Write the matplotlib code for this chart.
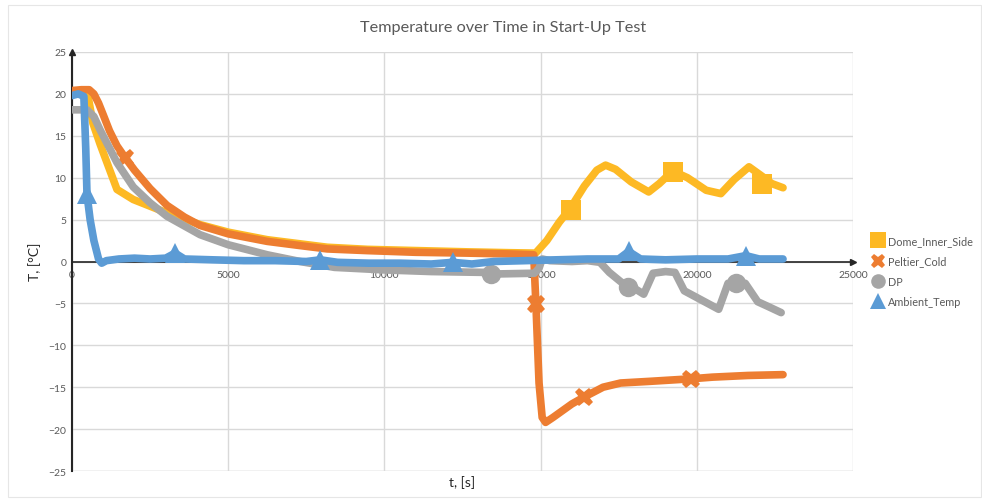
import matplotlib
matplotlib.use("Agg")
import matplotlib.pyplot as plt
from matplotlib.lines import Line2D
from matplotlib.patches import Rectangle

plt.rcParams['font.family'] = ['Lato', 'DejaVu Sans']

# series: time [s], temperature [°C]
dome_t = [0, 300, 480, 670, 900, 1120, 1440, 1960, 2500, 3040, 4100, 5000, 6250, 8170,
          9450, 12660, 14000, 14840, 15200, 15600, 15960, 16400, 16800, 17080,
          17400, 17900, 18460, 18800, 19230, 19700, 20300, 20770, 21200, 21670, 22080,
          22400, 22760]
dome_T = [20.3, 20.4, 20.4, 16.5, 14.0, 11.8, 8.6, 7.4, 6.6, 5.8, 4.4, 3.5, 2.6, 1.7,
          1.45, 1.15, 1.05, 1.0, 2.5, 4.7, 6.4, 9.0, 10.9, 11.5,
          11.0, 9.5, 8.3, 9.3, 10.8, 10.0, 8.5, 8.1, 9.8, 11.3, 10.2,
          9.3, 8.8]
dome_mt = [15960, 19230, 22080]
dome_mT = [6.1, 10.7, 9.3]

peltier_t = [0, 300, 550, 700, 850, 1000, 1200, 1440, 1700, 2000, 2500, 3040, 3600, 4100,
             5000, 6250, 7300, 8170, 9450, 11000, 12660, 14000, 14780, 14850, 14950, 15050,
             15160, 15400, 16000, 16380, 17000, 17560, 18500, 19810, 20500, 21630, 22760]
peltier_T = [20.4, 20.5, 20.5, 20.0, 18.9, 17.5, 15.6, 13.8, 12.4, 10.9, 8.7, 6.7, 5.3, 4.3,
             3.3, 2.4, 1.9, 1.5, 1.3, 1.1, 1.0, 0.9, 0.8, -5.1, -14.5, -18.6,
             -19.2, -18.6, -17.0, -16.2, -15.0, -14.5, -14.3, -14.0, -13.8, -13.6, -13.5]
peltier_mt = [1700, 14850, 16380, 19810]
peltier_mT = [12.4, -5.1, -16.2, -14.0]

dp_t = [0, 480, 700, 900, 1440, 1960, 2500, 3040, 4100, 5000, 6250, 7300, 8400,
        9970, 11500, 13200, 13400, 14800, 14950, 15050, 15300, 16000, 16500, 16900,
        17200, 17560, 17800, 18000, 18300, 18600, 19000, 19300, 19600, 20000, 20700,
        21000, 21250, 21550, 21950, 22300, 22700]
dp_T = [18.1, 18.1, 17.3, 15.7, 11.8, 8.9, 7.0, 5.4, 3.2, 2.0, 0.8, 0.0, -0.7,
        -1.0, -1.2, -1.3, -1.5, -1.4, -0.8, 0.3, 0.1, 0.0, 0.1, -0.1,
        -1.3, -2.4, -3.0, -3.2, -3.9, -1.4, -1.2, -1.3, -3.5, -4.3, -5.7,
        -2.6, -2.6, -2.6, -4.8, -5.4, -6.1]
dp_mt = [13400, 17800, 21250]
dp_mT = [-1.5, -3.0, -2.6]

amb_t = [0, 200, 380, 440, 480, 580, 700, 850, 950, 1100, 1500, 2000, 2500, 3000,
         3300, 3600, 4500, 5500, 6500, 7500, 7950, 8500, 9500, 10500, 11500, 12180,
         12800, 13500, 14500, 15500, 16500, 17500, 17820, 18200, 19000, 20000, 21000,
         21570, 22000, 22760]
amb_T = [19.8, 20.0, 19.7, 13.5, 8.0, 5.0, 2.5, 0.3, -0.2, 0.1, 0.3, 0.4, 0.3, 0.4,
         1.0, 0.3, 0.2, 0.1, 0.1, 0.0, 0.2, -0.1, -0.2, -0.2, -0.3, -0.1,
         -0.3, 0.0, 0.1, 0.2, 0.3, 0.3, 1.2, 0.3, 0.2, 0.3, 0.3,
         0.7, 0.3, 0.3]
amb_mt = [480, 3300, 7950, 12180, 17820, 21570]
amb_mT = [8.0, 1.0, 0.2, -0.1, 1.2, 0.7]

names = ["Dome_Inner_Side", "Peltier_Cold", "DP", "Ambient_Temp"]
colors = ["#FDB924", "#ED7D31", "#A5A5A5", "#5B9BD5"]
markers = ["s", "X", "o", "^"]
msizes = [15, 13.5, 14, 15]

x_ticks = [0, 5000, 10000, 15000, 20000, 25000]
y_ticks = [-25, -20, -15, -10, -5, 0, 5, 10, 15, 20, 25]

text_col = "#595959"

fig = plt.figure(figsize=(9.82, 5.02), dpi=100)
fig.patches.append(Rectangle((8 / 982, 4 / 502), 973 / 982, 492 / 502, transform=fig.transFigure,
                             fill=False, edgecolor="#E6E6E6", linewidth=0.8))
ax = fig.add_axes([72 / 982, 30 / 502, 781 / 982, 419 / 502])

series = [(dome_t, dome_T, dome_mt, dome_mT),
          (peltier_t, peltier_T, peltier_mt, peltier_mT),
          (dp_t, dp_T, dp_mt, dp_mT),
          (amb_t, amb_T, amb_mt, amb_mT)]
for i, (t, T, mt, mT) in enumerate(series):
    ax.plot(t, T, color=colors[i], lw=5.5, solid_capstyle="round", solid_joinstyle="round", zorder=3 + i)
    ax.plot(mt, mT, linestyle="none", marker=markers[i], ms=msizes[i], color=colors[i],
            markeredgewidth=0, zorder=3 + i)

ax.set_xlim(0, 25000)
ax.set_ylim(-25, 25)
ax.set_xticks(x_ticks)
ax.set_yticks(y_ticks)
ax.grid(True, color="#D9D9D9", lw=1)
ax.set_axisbelow(True)
for s in ["top", "right"]:
    ax.spines[s].set_visible(False)
ax.spines["bottom"].set_position(("data", 0))
ax.spines["bottom"].set_color("#262626")
ax.spines["bottom"].set_linewidth(1.2)
ax.spines["bottom"].set_zorder(2)
ax.spines["left"].set_color("#262626")
ax.spines["left"].set_linewidth(1.5)
ax.axhline(-25, color="#D9D9D9", lw=1, zorder=1)
ax.tick_params(length=0, labelsize=7.5, colors=text_col, pad=4)
ax.tick_params(axis="x", pad=6)
ax.plot(1, 0, ">", color="#262626", ms=5, transform=ax.get_yaxis_transform(), clip_on=False)
ax.plot(0, 1, "^", color="#262626", ms=5, transform=ax.get_xaxis_transform(), clip_on=False)

fig.text(503 / 982, 1 - 28 / 502, "Temperature over Time in Start-Up Test", ha="center", va="center",
         fontsize=11.7, color=text_col)
fig.text(462 / 982, 1 - 483 / 502, "t, [s]", ha="center", va="center", fontsize=10, color="#262626")
fig.text(35 / 982, 1 - 262 / 502, "T, [°C]", ha="center", va="center", rotation=90,
         fontsize=10, color="#262626")

handles = [Line2D([], [], linestyle="none", marker=markers[i], ms=msizes[i] * 0.75, color=colors[i],
                  markeredgewidth=0) for i in range(4)]
fig.legend(handles, names, loc="center left", bbox_to_anchor=(868 / 982, 1 - 272 / 502), frameon=False,
           fontsize=7.8, labelcolor=text_col, handletextpad=0.45, labelspacing=0.85, handlelength=1.0,
           borderaxespad=0)

fig.savefig("out.png", dpi=100)
